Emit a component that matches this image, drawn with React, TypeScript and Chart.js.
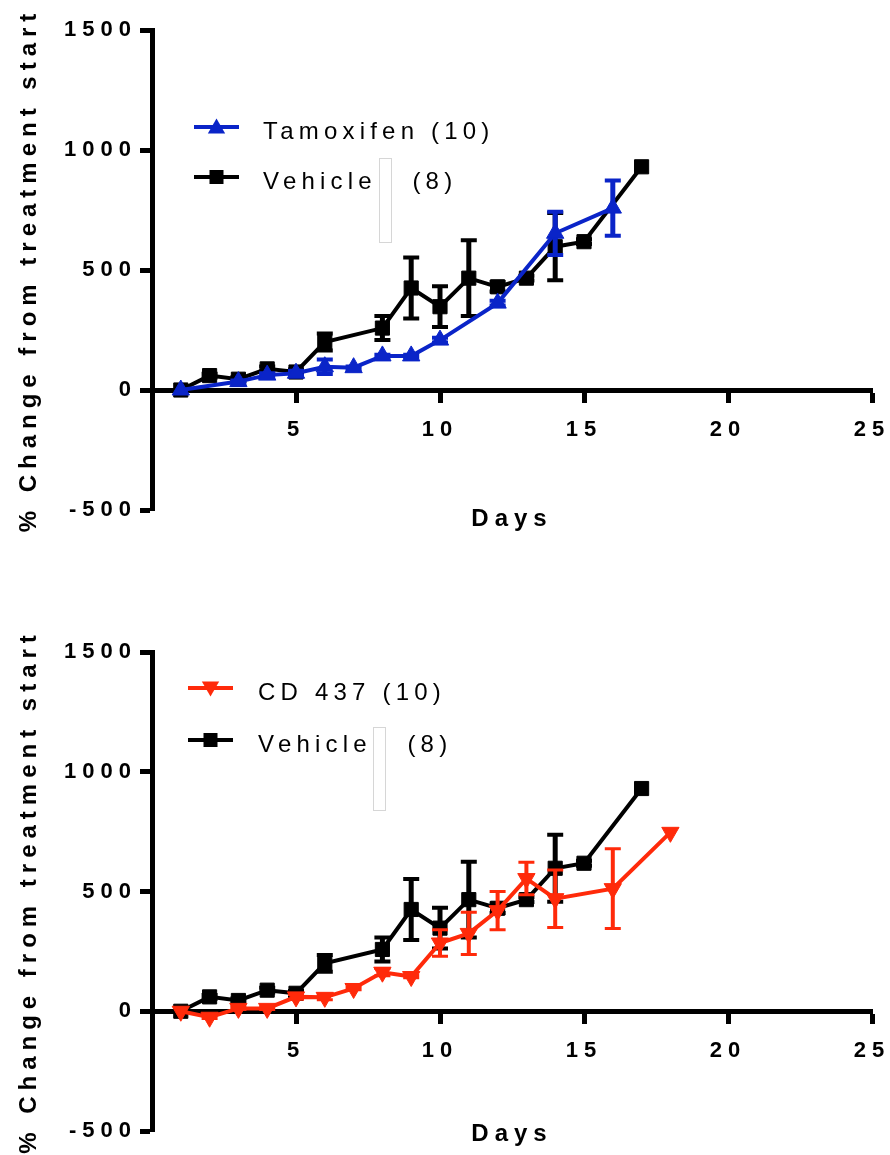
import React, { useEffect, useRef } from 'react';
import { Chart, registerables } from 'chart.js';

Chart.register(...registerables);

// ---------------- data ----------------
const vehicleLabel = 'Vehicle   (8)';
const vehicleDays = [1, 2, 3, 4, 5, 6, 8, 9, 10, 11, 12, 13, 14, 15, 17];
const vehicleMean = [0, 60, 45, 88, 75, 200, 258, 425, 347, 466, 430, 466, 597, 618, 930];
const vehicleSem = [0, 8, 8, 10, 10, 35, 50, 127, 85, 158, 20, 10, 140, 10, 0];

const tamoxifenLabel = 'Tamoxifen (10)';
const tamoxifenDays = [1, 3, 4, 5, 6, 7, 8, 9, 10, 12, 14, 16];
const tamoxifenMean = [0, 35, 62, 70, 97, 93, 142, 142, 208, 362, 653, 758];
const tamoxifenSem = [0, 5, 8, 10, 30, 5, 5, 5, 10, 10, 90, 115];

const cd437Label = 'CD 437 (10)';
const cd437Days = [1, 2, 3, 4, 5, 6, 7, 8, 9, 10, 11, 12, 13, 14, 16, 18];
const cd437Mean = [0, -25, 12, 12, 60, 58, 95, 163, 145, 285, 325, 420, 554, 470, 512, 747];
const cd437Sem = [0, 5, 5, 5, 10, 10, 5, 15, 5, 55, 88, 80, 68, 120, 167, 0];

const xMin = 0;
const xMax = 25;
const xStep = 5;
const yMin = -500;
const yMax = 1500;
const yStep = 500;
const xTitle = 'Days';
const yTitle = '% Change from treatment start';

// ---------------- styles ----------------
const BLACK = '#000000';
const BLUE = '#0a24c8';
const RED = '#ff2a0a';
const FONT = "'Liberation Sans', Arial, Helvetica, sans-serif";

type Series = {
  label: string;
  days: number[];
  mean: number[];
  sem: number[];
  color: string;
  shape: 'triangle' | 'rect';
  rotation: number;
  errWidth: number;
};

type LegendLayout = {
  x: number;
  y: number;
  lineLen: number;
  textX: number;
  rowGap: number;
  box: [number, number, number, number];
};

function buildDataset(s: Series) {
  return {
    label: s.label,
    data: s.days.map((d, i) => ({ x: d, y: s.mean[i] })),
    errors: s.sem,
    errWidth: s.errWidth,
    borderColor: s.color,
    backgroundColor: s.color,
    borderWidth: 4,
    tension: 0,
    pointStyle: s.shape,
    pointRotation: s.rotation,
    pointRadius: 10,
    pointHoverRadius: 10,
    pointBackgroundColor: s.color,
    pointBorderColor: s.color,
    pointBorderWidth: 1,
  };
}

function drawMarker(ctx: CanvasRenderingContext2D, shape: string, rotation: number, cx: number, cy: number, color: string) {
  ctx.fillStyle = color;
  if (shape === 'rect') {
    ctx.fillRect(cx - 7, cy - 7, 14, 14);
    return;
  }
  const r = 10;
  const dir = rotation === 180 ? -1 : 1;
  const oy = dir * 1.5;
  ctx.beginPath();
  ctx.moveTo(cx, cy - dir * r + oy);
  ctx.lineTo(cx + 0.866 * r, cy + dir * r * 0.5 + oy);
  ctx.lineTo(cx - 0.866 * r, cy + dir * r * 0.5 + oy);
  ctx.closePath();
  ctx.fill();
}

function makePlugin(series: Series[], legend: LegendLayout) {
  return {
    id: 'decor',
    beforeDraw(chart: any) {
      (chart.ctx as any).letterSpacing = '6px';
    },
    beforeDatasetDraw(chart: any, args: any) {
      const ds = chart.data.datasets[args.index];
      const meta = args.meta;
      const ys = chart.scales.y;
      const ctx = chart.ctx as CanvasRenderingContext2D;
      ctx.save();
      ctx.strokeStyle = ds.borderColor;
      ds.errors.forEach((e: number, i: number) => {
        if (!e) return;
        const pt = meta.data[i];
        const v = ds.data[i].y;
        const yt = ys.getPixelForValue(v + e);
        const yb = ys.getPixelForValue(v - e);
        ctx.lineWidth = ds.errWidth + 1;
        ctx.beginPath();
        ctx.moveTo(pt.x, yt);
        ctx.lineTo(pt.x, yb);
        ctx.stroke();
        ctx.lineWidth = ds.errWidth;
        ctx.beginPath();
        ctx.moveTo(pt.x - 8, yt);
        ctx.lineTo(pt.x + 8, yt);
        ctx.moveTo(pt.x - 8, yb);
        ctx.lineTo(pt.x + 8, yb);
        ctx.stroke();
      });
      ctx.restore();
    },
    afterDraw(chart: any) {
      const ctx = chart.ctx as CanvasRenderingContext2D;
      ctx.save();
      (ctx as any).letterSpacing = '5.2px';
      ctx.font = `normal 24px ${FONT}`;
      ctx.textAlign = 'left';
      ctx.textBaseline = 'alphabetic';
      series.forEach((s, k) => {
        const y = legend.y + k * legend.rowGap;
        ctx.strokeStyle = s.color;
        ctx.lineWidth = 4;
        ctx.beginPath();
        ctx.moveTo(legend.x, y);
        ctx.lineTo(legend.x + legend.lineLen, y);
        ctx.stroke();
        drawMarker(ctx, s.shape, s.rotation, legend.x + legend.lineLen / 2, y, s.color);
        ctx.fillStyle = BLACK;
        ctx.fillText(s.label, legend.textX, y + 12);
      });
      const [bx, by, bw, bh] = legend.box;
      ctx.strokeStyle = '#d6d6d6';
      ctx.lineWidth = 1;
      ctx.strokeRect(bx + 0.5, by + 0.5, bw, bh);
      ctx.restore();
    },
  };
}

type PanelProps = {
  top: number;
  height: number;
  series: Series[];
  legend: LegendLayout;
  padTop: number;
  padBottom: number;
  xTitlePad: number;
};

function Panel({ top, height, series, legend, padTop, padBottom, xTitlePad }: PanelProps) {
  const ref = useRef<HTMLCanvasElement | null>(null);
  useEffect(() => {
    if (!ref.current) return;
    Chart.defaults.font.family = FONT;
    Chart.defaults.color = BLACK;
    const yTickFont = { size: 22, weight: 'bold' as const, family: FONT };
    const xTickFont = { size: 22, weight: 'bold' as const, family: FONT, lineHeight: 50 / 22 };
    const titleFont = { size: 24, weight: 'bold' as const, family: FONT };
    const chart = new Chart(ref.current, {
      type: 'line',
      data: { datasets: series.map(buildDataset) as any },
      options: {
        animation: false,
        responsive: false,
        devicePixelRatio: 1,
        events: [],
        layout: { padding: { top: padTop, left: 0, right: 18, bottom: padBottom } },
        plugins: { legend: { display: false }, tooltip: { enabled: false } },
        scales: {
          x: {
            type: 'linear',
            position: { y: 0 } as any,
            min: xMin,
            max: xMax,
            ticks: {
              stepSize: xStep,
              autoSkip: false,
              maxRotation: 0,
              font: xTickFont,
              color: BLACK,
              padding: 5,
              callback: (v: any) => (Number(v) === 0 ? '' : String(v)),
            },
            grid: { drawOnChartArea: false, drawTicks: true, tickLength: 10, tickWidth: 5, tickColor: BLACK },
            border: { display: true, width: 5, color: BLACK },
            title: { display: true, text: xTitle, font: titleFont, color: BLACK, padding: { top: xTitlePad, bottom: 0 } },
          },
          y: {
            type: 'linear',
            position: 'left',
            min: yMin,
            max: yMax,
            ticks: {
              stepSize: yStep,
              font: yTickFont,
              color: BLACK,
              padding: 3,
              callback: (v: any) => String(v),
            },
            grid: { drawOnChartArea: false, drawTicks: true, tickLength: 12, tickWidth: 5, tickColor: BLACK },
            border: { display: true, width: 5, color: BLACK },
            title: { display: true, text: yTitle, font: titleFont, color: BLACK, padding: { top: 15, bottom: 0 } },
            afterFit: (s: any) => {
              s.width = 152;
            },
          },
        },
      } as any,
      plugins: [makePlugin(series, legend) as any],
    });
    return () => chart.destroy();
  }, []);
  return (
    <canvas
      ref={ref}
      width={890}
      height={height}
      style={{ position: 'absolute', left: 0, top, width: 890, height, display: 'block' }}
    />
  );
}

const topSeries: Series[] = [
  { label: tamoxifenLabel, days: tamoxifenDays, mean: tamoxifenMean, sem: tamoxifenSem, color: BLUE, shape: 'triangle', rotation: 0, errWidth: 4 },
  { label: vehicleLabel, days: vehicleDays, mean: vehicleMean, sem: vehicleSem, color: BLACK, shape: 'rect', rotation: 0, errWidth: 4 },
];

const bottomSeries: Series[] = [
  { label: cd437Label, days: cd437Days, mean: cd437Mean, sem: cd437Sem, color: RED, shape: 'triangle', rotation: 180, errWidth: 3 },
  { label: vehicleLabel, days: vehicleDays, mean: vehicleMean, sem: vehicleSem, color: BLACK, shape: 'rect', rotation: 0, errWidth: 4 },
];

export default function App() {
  return (
    <div style={{ position: 'absolute', left: 0, top: 0, width: 890, height: 1155, overflow: 'hidden', background: '#fff' }}>
      <Panel
        top={0}
        height={621}
        series={topSeries}
        legend={{ x: 194, y: 127, lineLen: 45, textX: 263, rowGap: 50, box: [379, 158, 12, 84] }}
        padTop={30}
        padBottom={111}
        xTitlePad={45}
      />
      <Panel
        top={621}
        height={534}
        series={bottomSeries}
        legend={{ x: 188, y: 67, lineLen: 45, textX: 258, rowGap: 52, box: [373, 106, 12, 83] }}
        padTop={31}
        padBottom={24}
        xTitlePad={39}
      />
    </div>
  );
}
